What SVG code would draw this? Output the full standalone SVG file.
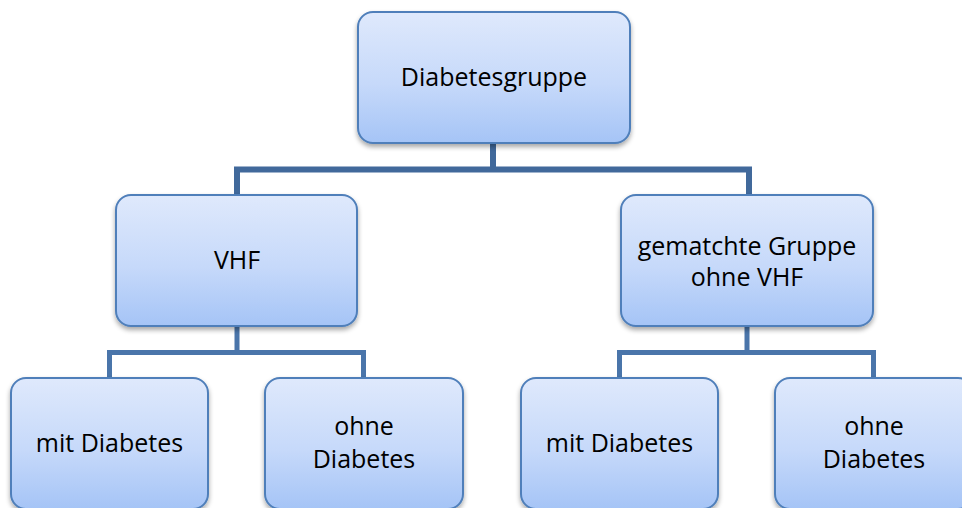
<svg xmlns="http://www.w3.org/2000/svg" width="962" height="508" viewBox="0 0 962 508">
<defs>
<linearGradient id="g" x1="0" y1="0" x2="0" y2="1">
<stop offset="0" stop-color="#dfe9fc"/>
<stop offset="0.55" stop-color="#c6d9fa"/>
<stop offset="1" stop-color="#a5c4f6"/>
</linearGradient>
<filter id="sh" x="-10%" y="-10%" width="120%" height="130%">
<feGaussianBlur in="SourceAlpha" stdDeviation="2.5"/>
<feOffset dx="0" dy="3" result="b"/>
<feComponentTransfer><feFuncA type="linear" slope="0.35"/></feComponentTransfer>
<feMerge><feMergeNode/><feMergeNode in="SourceGraphic"/></feMerge>
</filter>
</defs>
<style>
.box{fill:url(#g);stroke:#4f7fba;stroke-width:2;filter:url(#sh)}
.t{font-family:"Open Sans","Liberation Sans",sans-serif;font-size:25px;fill:#000;text-anchor:middle}
.c1{fill:none;stroke:#41699b;stroke-width:6}
.c2{fill:none;stroke:#4a75aa;stroke-width:5}
</style>
<rect width="962" height="508" fill="#fff"/>
<g id="connectors">
<path class="c1" d="M493 143 V169.5 M237 195 V169.5 H749 V195"/>
<path class="c2" d="M237 326 V352.5 M109.5 378 V352.5 H363.5 V378"/>
<path class="c2" d="M747 326 V352.5 M619.5 378 V352.5 H873.5 V378"/>
</g>
<g id="n-diabetesgruppe">
<rect class="box" x="358" y="12" width="272" height="131" rx="15"/>
<text class="t" x="494" y="86">Diabetesgruppe</text>
</g>
<g id="n-vhf">
<rect class="box" x="116" y="195" width="241" height="131" rx="15"/>
<text class="t" x="237" y="269">VHF</text>
</g>
<g id="n-gematchte">
<rect class="box" x="621" y="195" width="252" height="131" rx="15"/>
<text class="t" x="747" y="255">gematchte Gruppe</text>
<text class="t" x="747" y="286">ohne VHF</text>
</g>
<g id="n-vhf-mit">
<rect class="box" x="11" y="378" width="197" height="131" rx="15"/>
<text class="t" x="109.5" y="452">mit Diabetes</text>
</g>
<g id="n-vhf-ohne">
<rect class="box" x="265" y="378" width="198" height="131" rx="15"/>
<text class="t" x="364" y="435">ohne</text>
<text class="t" x="364" y="468">Diabetes</text>
</g>
<g id="n-gem-mit">
<rect class="box" x="521" y="378" width="197" height="131" rx="15"/>
<text class="t" x="619.5" y="452">mit Diabetes</text>
</g>
<g id="n-gem-ohne">
<rect class="box" x="775" y="378" width="198" height="131" rx="15"/>
<text class="t" x="874" y="435">ohne</text>
<text class="t" x="874" y="468">Diabetes</text>
</g>
</svg>
